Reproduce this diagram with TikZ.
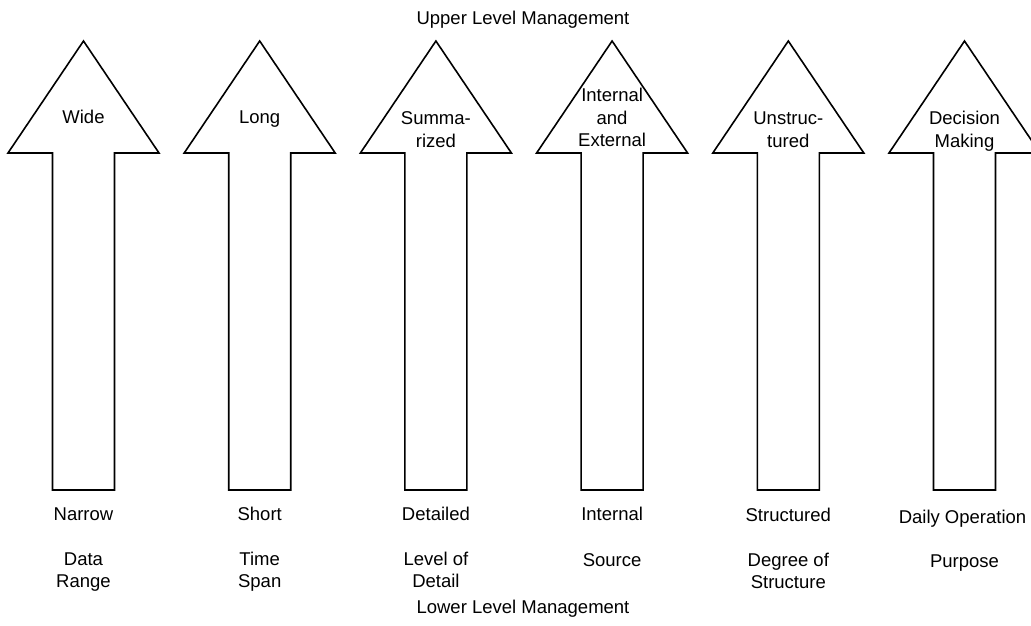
\documentclass[tikz,border=0pt]{standalone}
\usepackage{fontspec}
\setmainfont{Liberation Sans}
\newcommand\upArrow[1]{\draw[arr] (#1-31,490) -- (#1-31,153) -- (#1-75.5,153) -- (#1,41) -- (#1+75.5,153) -- (#1+31,153) -- (#1+31,490) -- cycle;}
\tikzset{
  arr/.style={draw=black, line width=1.6pt, line join=miter},
  lbl/.style={inner sep=0pt, anchor=base, font=\fontsize{18.5}{23}\selectfont},
}
\begin{document}
\begin{tikzpicture}[x=1pt,y=-1pt]
\useasboundingbox (0,0) rectangle (1031,626);
\clip (0,0) rectangle (1031,626);
\upArrow{83.5}
\upArrow{259.7}
\upArrow{435.9}
\upArrow{612.1}
\upArrow{788.3}
\upArrow{964.5}
% top title
\node[lbl] (up) at (523,25) {Upper Level Management};
% head labels
\node[lbl] (wide) at (83.5,123) {Wide};
\node[lbl] (long) at (259.7,123) {Long};
\node[lbl] (sum1) at (435.9,124) {Summa-};
\node[lbl] (sum2) at (435.9,147) {rized};
\node[lbl] (ie1) at (612.1,102) {Internal};
\node[lbl] (ie2) at (612.1,124) {and};
\node[lbl] (ie3) at (612.1,146) {External};
\node[lbl] (un1) at (788.3,124) {Unstruc-};
\node[lbl] (un2) at (788.3,147) {tured};
\node[lbl] (dm1) at (964.5,124) {Decision};
\node[lbl] (dm2) at (964.5,147) {Making};
% lower end labels
\node[lbl] (lo1) at (83.5,520) {Narrow};
\node[lbl] (lo2) at (259.7,520) {Short};
\node[lbl] (lo3) at (435.9,520) {Detailed};
\node[lbl] (lo4) at (612.1,520) {Internal};
\node[lbl] (lo5) at (788.3,521) {Structured};
\node[lbl] (lo6) at (962.5,523) {Daily Operation};
% dimension names
\node[lbl] (d1a) at (83.5,565) {Data};
\node[lbl] (d1b) at (83.5,587) {Range};
\node[lbl] (d2a) at (259.7,565) {Time};
\node[lbl] (d2b) at (259.7,587) {Span};
\node[lbl] (d3a) at (435.9,565) {Level of};
\node[lbl] (d3b) at (435.9,587) {Detail};
\node[lbl] (d4a) at (612.1,566) {Source};
\node[lbl] (d5a) at (788.3,566) {Degree of};
\node[lbl] (d5b) at (788.3,588) {Structure};
\node[lbl] (d6a) at (964.5,567) {Purpose};
% bottom title
\node[lbl] (low) at (523,613) {Lower Level Management};
\end{tikzpicture}
\end{document}
